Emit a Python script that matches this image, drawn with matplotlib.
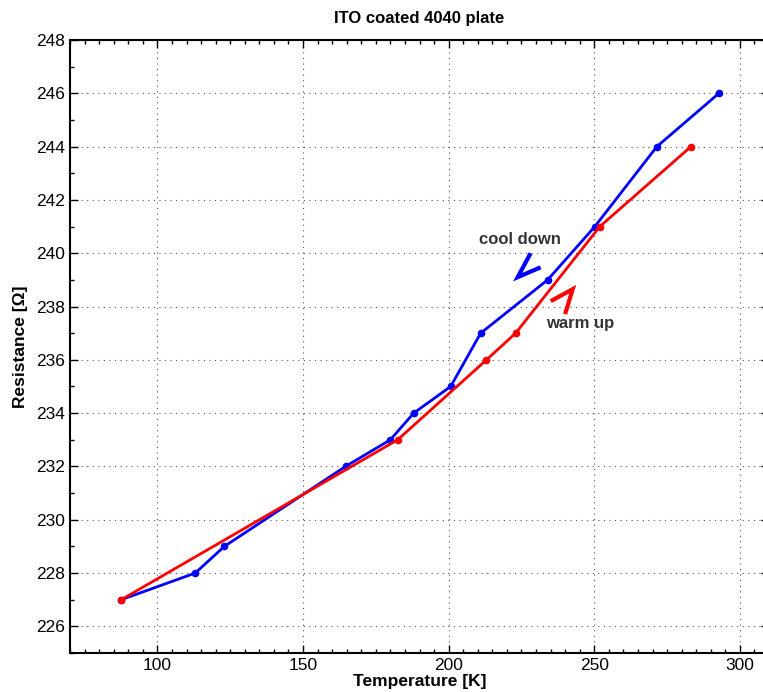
import matplotlib
matplotlib.use("Agg")
import matplotlib.pyplot as plt
from matplotlib.ticker import MultipleLocator

plt.rcParams['font.family'] = ['Liberation Sans', 'DejaVu Sans']

# Cool-down run (blue)
cool_T = [292.8, 271.5, 250.2, 234.0, 211.0, 200.7, 188.0, 180.0, 164.6, 123.0, 113.0, 87.6]
cool_R = [246, 244, 241, 239, 237, 235, 234, 233, 232, 229, 228, 227]

# Warm-up run (red)
warm_T = [87.6, 182.5, 213.0, 223.0, 251.9, 283.2]
warm_R = [227, 233, 236, 237, 241, 244]

x_ticks = [100, 150, 200, 250, 300]
y_ticks = list(range(226, 249, 2))

fig = plt.figure(figsize=(7.63, 6.92), dpi=100)
W, H = 763, 692
left, right, top, bottom = 70, 769, 40, 653
ax = fig.add_axes([left / W, 1 - bottom / H, (right - left) / W, (bottom - top) / H])

ax.plot(cool_T, cool_R, '-', color='#0000ff', lw=2, marker='o', ms=4.5, zorder=3)
ax.plot(warm_T, warm_R, '-', color='#ff0000', lw=2, marker='o', ms=4.5, zorder=3)

ax.set_xlim(70, 310)
ax.set_ylim(225, 248)
ax.set_xticks(x_ticks)
ax.set_yticks(y_ticks)
ax.xaxis.set_minor_locator(MultipleLocator(5))
ax.yaxis.set_minor_locator(MultipleLocator(1))
ax.tick_params(which='both', direction='in', top=True, right=True, labelsize=12.5, width=1)
ax.tick_params(which='major', length=6)
ax.tick_params(which='minor', length=3)
for s in ax.spines.values():
    s.set_linewidth(1.5)
ax.grid(True, which='major', linestyle=(0, (1, 4)), color='#555555', lw=0.8)

ax.set_title('ITO coated 4040 plate', fontsize=12, fontweight='bold', pad=12)
ax.set_xlabel('Temperature [K]', fontsize=12.5, fontweight='bold', labelpad=1)
ax.set_ylabel('Resistance [Ω]', fontsize=12.5, fontweight='bold', labelpad=6)

# Direction labels with chevron arrowheads
ax.text(224.4, 240.5, 'cool down', fontsize=12, fontweight='bold', color='#333333',
        ha='center', va='center')
ax.plot([227.8, 223.7, 230.9], [239.93, 239.1, 239.44], color='#0000ff', lw=3,
        solid_joinstyle='miter', zorder=4)
ax.text(245, 237.35, 'warm up', fontsize=12, fontweight='bold', color='#333333',
        ha='center', va='center')
ax.plot([235.7, 242.6, 240.2], [238.24, 238.65, 237.79], color='#ff0000', lw=3,
        solid_joinstyle='miter', zorder=4)

fig.savefig('out.png', dpi=100)
